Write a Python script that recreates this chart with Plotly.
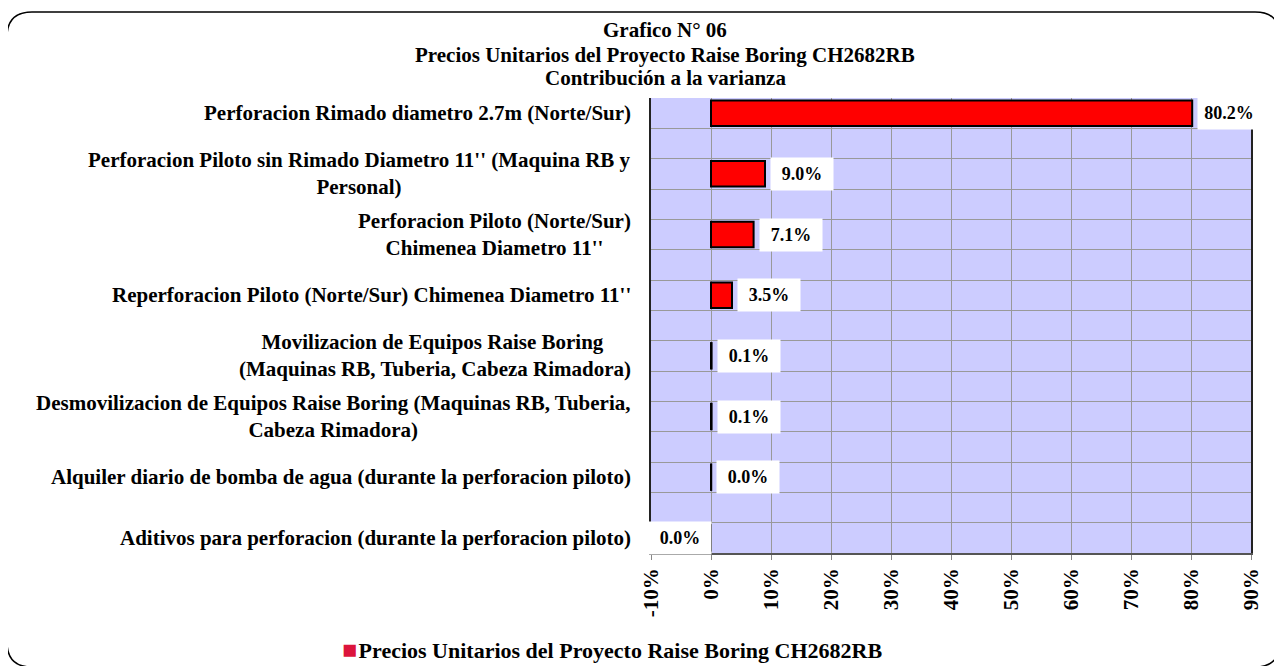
import plotly.graph_objects as go

# data (contribution to variance, %)
categories = [
    "Perforacion Rimado diametro 2.7m (Norte/Sur)",
    "Perforacion Piloto sin Rimado Diametro 11'' (Maquina RB y<br>Personal)",
    "Perforacion Piloto (Norte/Sur)<br>Chimenea Diametro 11''",
    "Reperforacion Piloto (Norte/Sur) Chimenea Diametro 11''",
    "Movilizacion de Equipos Raise Boring&nbsp;<br>(Maquinas RB, Tuberia, Cabeza Rimadora)",
    "Desmovilizacion de Equipos Raise Boring (Maquinas RB, Tuberia,<br>Cabeza Rimadora)",
    "Alquiler diario de bomba de agua (durante la perforacion piloto)",
    "Aditivos para perforacion (durante la perforacion piloto)",
]
values = [80.2, 9.0, 7.1, 3.5, 0.1, 0.1, 0.04, -0.01]
tick_vals = [-10, 0, 10, 20, 30, 40, 50, 60, 70, 80, 90]
tick_text = [f"{v}%" for v in tick_vals]
series_name = "Precios Unitarios del Proyecto Raise Boring CH2682RB"
title_lines = ["Grafico N° 06",
               "Precios Unitarios del Proyecto Raise Boring CH2682RB",
               "Contribución a la varianza"]

W, H = 1282, 666
OFF = 8  # page body margin
ML, MR, MT, MB = 643, 39, 90, 121
FONT = "Liberation Serif, Times New Roman, serif"

pos = list(range(len(categories)))


def px2paper(px, py):
    # page pixel -> paper coords
    fx, fy = px - OFF, py - OFF
    return (fx - ML) / (W - ML - MR), (H - MB - fy) / (H - MT - MB)


fig = go.Figure()
fig.add_trace(go.Bar(
    x=values, y=pos, orientation="h", width=0.42, name=series_name,
    marker=dict(color="#FF0000", line=dict(color="black", width=2)),
    showlegend=False, hoverinfo="x",
))

annotations = []
for p, v in zip(pos, values):
    annotations.append(dict(
        x=v, y=p, xref="x", yref="y", text=f"{abs(v):.1f}%",
        showarrow=False, xanchor="left" if v >= 0 else "right",
        xshift=5 if v >= 0 else 1, width=60, height=30, bgcolor="white",
        font=dict(family=FONT, size=18, color="black", weight="bold"),
    ))
for p, c in zip(pos, categories):
    annotations.append(dict(
        x=0, y=p, xref="paper", yref="y", text=c, showarrow=False,
        xanchor="right", xshift=-18, align="center",
        font=dict(family=FONT, size=21, color="black", weight="bold"),
    ))

# title, one line at a time
for line, py in zip(title_lines, [30, 55, 78]):
    tx, ty = px2paper(665, py)
    annotations.append(dict(
        x=tx, y=ty, xref="paper", yref="paper", text=line, showarrow=False,
        xanchor="center", yanchor="middle",
        font=dict(family=FONT, size=21, color="black", weight="bold"),
    ))

# legend as in the original: small crimson square + series name
lx, ly = px2paper(612, 649)
annotations.append(dict(
    x=lx, y=ly, xref="paper", yref="paper", showarrow=False,
    xanchor="center", yanchor="middle",
    text=(f"<span style='color:#DC143C;font-size:25px'>■</span>"
          f"<span style='font-size:6px'>&nbsp;</span>{series_name}"),
    font=dict(family=FONT, size=22, color="black", weight="bold"),
))

# rounded outer frame
x0, y0, x1, y1, r = 7, 12, 1280, 667, 25
pts = [(x0 + r, y0), (x1 - r, y0), (x1, y0), (x1, y0 + r), (x1, y1 - r), (x1, y1),
       (x1 - r, y1), (x0 + r, y1), (x0, y1), (x0, y1 - r), (x0, y0 + r), (x0, y0)]
q = [px2paper(a, b) for a, b in pts]
path = (f"M{q[0][0]},{q[0][1]} L{q[1][0]},{q[1][1]} Q{q[2][0]},{q[2][1]} {q[3][0]},{q[3][1]} "
        f"L{q[4][0]},{q[4][1]} Q{q[5][0]},{q[5][1]} {q[6][0]},{q[6][1]} "
        f"L{q[7][0]},{q[7][1]} Q{q[8][0]},{q[8][1]} {q[9][0]},{q[9][1]} "
        f"L{q[10][0]},{q[10][1]} Q{q[11][0]},{q[11][1]} {q[0][0]},{q[0][1]} Z")

fig.update_layout(
    width=W, height=H,
    margin=dict(l=ML, r=MR, t=MT, b=MB, autoexpand=False),
    paper_bgcolor="white", plot_bgcolor="#CCCCFF",
    font=dict(family=FONT, color="black"),
    showlegend=False,
    xaxis=dict(
        range=[-10, 90], tickvals=tick_vals, ticktext=tick_text, tickangle=-90,
        showgrid=True, gridcolor="#999999", gridwidth=1, zeroline=False,
        showline=True, linecolor="#555555", linewidth=1.5,
        ticks="outside", ticklen=5, tickcolor="#888888",
        tickfont=dict(family=FONT, size=21, color="black", weight="bold"),
        fixedrange=True,
    ),
    yaxis=dict(
        range=[len(categories) - 0.75, -0.25], tick0=0.25, dtick=0.5,
        showticklabels=False, ticks="", showgrid=True, gridcolor="#999999", gridwidth=1,
        zeroline=False, showline=True, linecolor="#222222", linewidth=1.5, mirror=True,
        fixedrange=True,
    ),
    shapes=[dict(type="path", xref="paper", yref="paper", path=path,
                 line=dict(color="black", width=1.5), layer="below")],
    annotations=annotations,
)

fig.write_html("out.html")
